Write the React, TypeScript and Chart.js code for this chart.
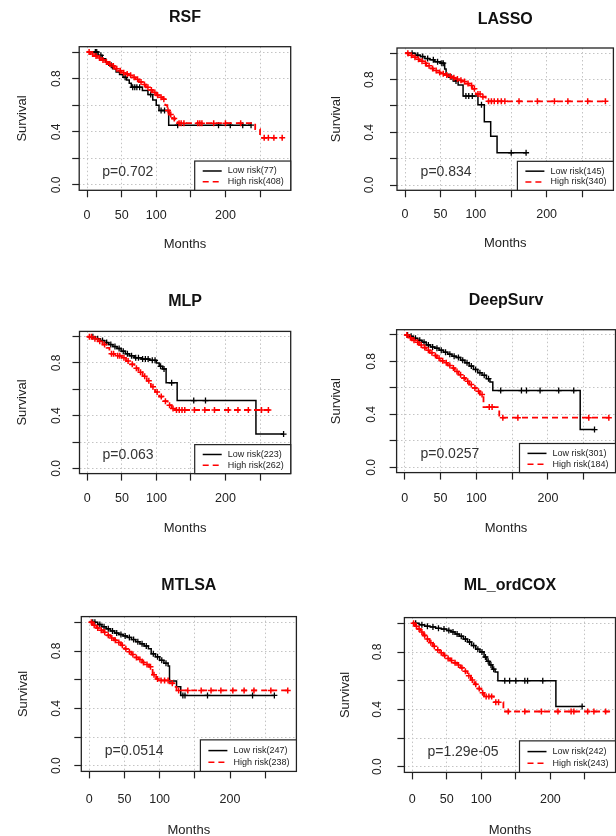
import React, { useEffect, useRef } from 'react';
import { Chart, registerables } from 'chart.js';

Chart.register(...registerables);

const FONT = "'Liberation Sans', Arial, Helvetica, sans-serif";
Chart.defaults.font.family = FONT;

// ---------- axes ----------
const X_MIN = -11.32;
const X_MAX = 294.3;
const Y_MIN = -0.04;
const Y_MAX = 1.04;
const xTickValues = [0, 50, 100, 150, 200, 250];
const xTickLabels = ['0', '50', '100', '', '200', ''];
const yTickValues = [0, 0.2, 0.4, 0.6, 0.8, 1.0];
const yTickLabels = ['0.0', '', '0.4', '', '0.8', ''];
const P_LABEL_X = 22; // months
const P_LABEL_Y = 0.1; // survival

// ---------- panel titles / text ----------
const panelTitles = ['RSF', 'LASSO', 'MLP', 'DeepSurv', 'MTLSA', 'ML_ordCOX'];
const lowCounts = [77, 145, 223, 301, 247, 242];
const highCounts = [408, 340, 262, 184, 238, 243];
const pValues = ['p=0.702', 'p=0.834', 'p=0.063', 'p=0.0257', 'p=0.0514', 'p=1.29e-05'];

// ---------- RSF ----------
const rsfLowTime = [0, 16, 22, 27, 32, 37, 42, 47, 52, 57, 61, 64, 80, 88, 95, 100, 104, 118, 237];
const rsfLowSurv = [1, 0.975, 0.95, 0.925, 0.9, 0.875, 0.85, 0.83, 0.81, 0.79, 0.765, 0.735, 0.71, 0.68, 0.64, 0.6, 0.56, 0.45, 0.45];
const rsfLowCensor = [12, 14, 20, 35, 55, 66, 69, 72, 76, 92, 107, 112, 131, 190, 207, 225, 237];
const rsfHighTime = [0, 5, 10, 15, 20, 25, 30, 35, 40, 45, 50, 55, 60, 65, 70, 75, 80, 85, 90, 95, 100, 105, 110, 113, 116, 119, 123, 127, 131, 243, 250, 283];
const rsfHighSurv = [1, 0.985, 0.97, 0.955, 0.94, 0.925, 0.91, 0.895, 0.875, 0.86, 0.845, 0.835, 0.825, 0.81, 0.795, 0.775, 0.755, 0.735, 0.715, 0.695, 0.675, 0.66, 0.645, 0.6, 0.56, 0.53, 0.5, 0.48, 0.465, 0.42, 0.355, 0.355];
const rsfHighCensor = [3, 8, 13, 18, 23, 28, 33, 38, 43, 48, 53, 58, 63, 68, 73, 78, 83, 88, 93, 98, 102, 107, 111, 117, 121, 126, 133, 136, 140, 160, 163, 166, 183, 200, 222, 256, 262, 270, 282];

// ---------- LASSO ----------
const lassoLowTime = [0, 15, 22, 28, 35, 42, 50, 56, 58, 62, 68, 75, 82, 103, 112, 121, 130, 171];
const lassoLowSurv = [1, 0.985, 0.975, 0.96, 0.95, 0.935, 0.925, 0.88, 0.84, 0.82, 0.79, 0.76, 0.675, 0.61, 0.48, 0.37, 0.245, 0.245];
const lassoLowCensor = [10, 18, 25, 32, 40, 46, 52, 54, 65, 72, 86, 90, 95, 108, 150, 171];
const lassoHighTime = [0, 5, 10, 15, 20, 25, 30, 35, 40, 45, 50, 55, 60, 65, 70, 75, 80, 85, 90, 95, 100, 107, 114, 283];
const lassoHighSurv = [1, 0.985, 0.97, 0.955, 0.94, 0.925, 0.905, 0.885, 0.87, 0.855, 0.845, 0.835, 0.825, 0.815, 0.805, 0.795, 0.785, 0.77, 0.755, 0.73, 0.69, 0.67, 0.635, 0.635];
const lassoHighCensor = [4, 9, 14, 19, 24, 29, 34, 39, 44, 49, 54, 59, 64, 69, 74, 79, 84, 89, 94, 98, 103, 106, 110, 118, 122, 126, 131, 136, 141, 161, 187, 211, 230, 258, 283];

// ---------- MLP ----------
const mlpLowTime = [0, 12, 19, 25, 31, 37, 43, 49, 55, 61, 68, 78, 90, 100, 104, 109, 114, 130, 244, 284];
const mlpLowSurv = [1, 0.985, 0.97, 0.955, 0.94, 0.925, 0.91, 0.89, 0.87, 0.855, 0.84, 0.83, 0.82, 0.8, 0.775, 0.755, 0.65, 0.515, 0.26, 0.26];
const mlpLowCensor = [8, 15, 22, 28, 34, 40, 46, 52, 58, 64, 70, 74, 80, 84, 88, 94, 98, 106, 111, 122, 154, 171, 284];
const mlpHighTime = [0, 8, 15, 22, 28, 32, 40, 50, 56, 62, 68, 74, 80, 86, 92, 98, 104, 110, 116, 122, 126, 264];
const mlpHighSurv = [1, 0.985, 0.965, 0.94, 0.915, 0.87, 0.855, 0.84, 0.815, 0.79, 0.76, 0.73, 0.7, 0.665, 0.62, 0.58, 0.545, 0.51, 0.48, 0.455, 0.443, 0.443];
const mlpHighCensor = [3, 6, 11, 18, 25, 35, 38, 44, 47, 53, 59, 65, 71, 77, 83, 89, 95, 101, 107, 113, 119, 124, 129, 133, 137, 141, 155, 170, 184, 204, 218, 233, 252, 262];

// ---------- DeepSurv ----------
const deepLowTime = [0, 6, 12, 18, 24, 30, 36, 42, 48, 54, 60, 66, 72, 78, 84, 90, 96, 102, 108, 114, 119, 123, 245, 265];
const deepLowSurv = [1, 0.99, 0.975, 0.96, 0.945, 0.925, 0.91, 0.9, 0.885, 0.87, 0.855, 0.84, 0.83, 0.81, 0.79, 0.765, 0.74, 0.715, 0.695, 0.67, 0.645, 0.58, 0.285, 0.285];
const deepLowCensor = [4, 9, 15, 21, 27, 33, 39, 45, 51, 57, 63, 69, 75, 81, 87, 93, 99, 105, 111, 117, 134, 163, 170, 189, 215, 236, 265];
const deepHighTime = [0, 5, 10, 15, 20, 25, 30, 35, 40, 45, 50, 55, 60, 65, 70, 75, 80, 85, 90, 95, 100, 105, 110, 132, 288];
const deepHighSurv = [1, 0.98, 0.96, 0.945, 0.925, 0.905, 0.885, 0.865, 0.845, 0.825, 0.805, 0.79, 0.77, 0.75, 0.725, 0.7, 0.675, 0.65, 0.625, 0.6, 0.575, 0.55, 0.455, 0.375, 0.375];
const deepHighCensor = [3, 8, 13, 18, 23, 28, 33, 38, 43, 48, 53, 58, 63, 68, 73, 78, 83, 88, 93, 98, 103, 108, 118, 122, 137, 158, 257, 285];

// ---------- MTLSA ----------
const mtlsaLowTime = [0, 12, 18, 24, 30, 36, 42, 48, 54, 60, 66, 72, 78, 84, 88, 94, 100, 106, 112, 114, 124, 130, 263];
const mtlsaLowSurv = [1, 0.985, 0.97, 0.955, 0.94, 0.925, 0.915, 0.905, 0.895, 0.88, 0.865, 0.85, 0.835, 0.815, 0.78, 0.76, 0.735, 0.715, 0.695, 0.59, 0.55, 0.49, 0.49];
const mtlsaLowCensor = [5, 8, 15, 21, 27, 33, 39, 45, 51, 57, 63, 69, 75, 81, 91, 97, 103, 109, 133, 136, 168, 232, 263];
const mtlsaHighTime = [0, 5, 10, 15, 20, 25, 30, 35, 40, 45, 50, 55, 60, 65, 70, 75, 80, 85, 90, 95, 100, 114, 121, 124, 282];
const mtlsaHighSurv = [1, 0.98, 0.96, 0.945, 0.93, 0.91, 0.89, 0.875, 0.86, 0.84, 0.815, 0.795, 0.775, 0.755, 0.74, 0.72, 0.705, 0.69, 0.635, 0.605, 0.595, 0.575, 0.55, 0.525, 0.525];
const mtlsaHighCensor = [3, 7, 12, 17, 22, 27, 32, 37, 42, 47, 52, 57, 62, 67, 72, 77, 82, 87, 92, 97, 102, 107, 112, 118, 127, 140, 159, 173, 187, 204, 220, 234, 258, 282];

// ---------- ML_ordCOX ----------
const ordLowTime = [0, 10, 18, 26, 34, 42, 50, 56, 62, 68, 74, 80, 86, 92, 98, 104, 108, 112, 116, 120, 124, 208, 246];
const ordLowSurv = [1, 0.99, 0.98, 0.975, 0.965, 0.96, 0.95, 0.94, 0.925, 0.91, 0.89, 0.87, 0.845, 0.82, 0.8, 0.765, 0.735, 0.71, 0.68, 0.66, 0.6, 0.42, 0.42];
const ordLowCensor = [5, 14, 22, 30, 38, 46, 53, 59, 65, 71, 77, 83, 89, 95, 101, 106, 110, 114, 118, 134, 141, 150, 163, 167, 189, 246];
const ordHighTime = [0, 4, 8, 12, 16, 20, 25, 30, 35, 40, 45, 50, 55, 60, 65, 70, 75, 80, 85, 90, 95, 100, 104, 118, 132, 292];
const ordHighSurv = [1, 0.98, 0.96, 0.94, 0.915, 0.89, 0.865, 0.84, 0.815, 0.795, 0.775, 0.755, 0.74, 0.725, 0.71, 0.69, 0.665, 0.635, 0.605, 0.575, 0.545, 0.515, 0.49, 0.45, 0.385, 0.385];
const ordHighCensor = [2, 6, 10, 14, 18, 22, 27, 32, 37, 42, 47, 52, 57, 62, 67, 72, 77, 82, 87, 92, 97, 102, 107, 111, 115, 121, 125, 139, 163, 187, 211, 230, 234, 254, 263, 280];

const seriesByPanel = [
  [rsfLowTime, rsfLowSurv, rsfLowCensor, rsfHighTime, rsfHighSurv, rsfHighCensor],
  [lassoLowTime, lassoLowSurv, lassoLowCensor, lassoHighTime, lassoHighSurv, lassoHighCensor],
  [mlpLowTime, mlpLowSurv, mlpLowCensor, mlpHighTime, mlpHighSurv, mlpHighCensor],
  [deepLowTime, deepLowSurv, deepLowCensor, deepHighTime, deepHighSurv, deepHighCensor],
  [mtlsaLowTime, mtlsaLowSurv, mtlsaLowCensor, mtlsaHighTime, mtlsaHighSurv, mtlsaHighCensor],
  [ordLowTime, ordLowSurv, ordLowCensor, ordHighTime, ordHighSurv, ordHighCensor],
];

// ---------- layout (page pixels) ----------
type Layout = {
  cx: number; cy: number; cw: number; ch: number;
  L: number; T: number; R: number; B: number;
  titleY: number; survX: number; yPad: number; xPad: number; monthsY: number;
};
const layouts: Layout[] = [
  { cx: 0, cy: 0, cw: 308, ch: 262, L: 79.2, T: 46.7, R: 290.7, B: 190.3, titleY: 18, survX: 22, yPad: 7.5, xPad: 10.5, monthsY: 244 },
  { cx: 308, cy: 0, cw: 312, ch: 262, L: 397.0, T: 48.0, R: 613.4, B: 190.3, titleY: 20, survX: 336, yPad: 12.3, xPad: 9.5, monthsY: 243.5 },
  { cx: 0, cy: 278, cw: 308, ch: 267, L: 79.5, T: 331.4, R: 290.7, B: 473.6, titleY: 302, survX: 22, yPad: 7.8, xPad: 10.2, monthsY: 528 },
  { cx: 308, cy: 278, cw: 312, ch: 267, L: 396.6, T: 329.7, R: 615.6, B: 472.6, titleY: 301, survX: 336, yPad: 9.9, xPad: 11.2, monthsY: 528 },
  { cx: 0, cy: 560, cw: 308, ch: 280, L: 81.3, T: 616.6, R: 296.4, B: 771.4, titleY: 586, survX: 23, yPad: 9.6, xPad: 13.4, monthsY: 830 },
  { cx: 308, cy: 560, cw: 312, ch: 280, L: 404.4, T: 617.6, R: 618.5, B: 772.4, titleY: 586, survX: 345, yPad: 11.7, xPad: 12.4, monthsY: 830 },
];

const toPoints = (t: number[], s: number[]) => t.map((v, i) => ({ x: v, y: s[i] }));
const survAt = (t: number[], s: number[], when: number) => {
  let v = s[0];
  for (let i = 0; i < t.length; i++) if (t[i] <= when) v = s[i];
  return v;
};
const censorPoints = (t: number[], s: number[], c: number[]) => c.map((w) => ({ x: w, y: survAt(t, s, w) }));

function buildConfig(idx: number): any {
  const lay = layouts[idx];
  const [lowT, lowS, lowC, highT, highS, highC] = seriesByPanel[idx];
  const lhTitle = 16 * 1.2;
  const lhAxis = 13 * 1.2;
  const titlePadTop = lay.titleY - lay.cy - lhTitle / 2;
  const titlePadBottom = lay.T - lay.cy - titlePadTop - lhTitle;
  const yWidth = lay.L - lay.cx;
  const xHeight = lay.cy + lay.ch - lay.B;
  const rightPad = lay.cx + lay.cw - lay.R;
  const monthsPad = Math.max(0, lay.cy + lay.ch - lay.monthsY - lhAxis / 2);
  const survPad = lay.survX - lay.cx - lhAxis / 2;

  const decor = {
    id: 'decor' + idx,
    afterDatasetsDraw(chart: any) {
      const { ctx, chartArea: a, scales } = chart;
      const xs = scales.x;
      const ys = scales.y;
      ctx.save();
      ctx.setLineDash([]);
      ctx.strokeStyle = '#222';
      ctx.lineWidth = 1.3;
      ctx.strokeRect(a.left, a.top, a.right - a.left, a.bottom - a.top);

      // p-value
      ctx.fillStyle = '#333';
      ctx.font = `14px ${FONT}`;
      ctx.textAlign = 'left';
      ctx.textBaseline = 'middle';
      ctx.fillText(pValues[idx], xs.getPixelForValue(P_LABEL_X), ys.getPixelForValue(P_LABEL_Y));

      // legend (bottom right)
      const lw = 96;
      const lh = 0.22 * (ys.getPixelForValue(0) - ys.getPixelForValue(1));
      const lx = Math.min(a.right, 616) - lw;
      const ly = a.bottom - lh;
      ctx.fillStyle = '#ffffff';
      ctx.fillRect(lx, ly, a.right - lx, lh);
      ctx.strokeStyle = '#222';
      ctx.lineWidth = 1.2;
      ctx.strokeRect(lx, ly, a.right - lx, lh);
      const r1 = ly + lh * 0.34;
      const r2 = ly + lh * 0.71;
      ctx.lineWidth = 1.5;
      ctx.strokeStyle = '#000';
      ctx.beginPath();
      ctx.moveTo(lx + 8, r1);
      ctx.lineTo(lx + 27, r1);
      ctx.stroke();
      ctx.strokeStyle = '#ff0000';
      ctx.setLineDash([6, 4]);
      ctx.beginPath();
      ctx.moveTo(lx + 8, r2);
      ctx.lineTo(lx + 27, r2);
      ctx.stroke();
      ctx.setLineDash([]);
      ctx.fillStyle = '#222';
      ctx.font = `9px ${FONT}`;
      ctx.fillText(`Low risk(${lowCounts[idx]})`, lx + 33, r1);
      ctx.fillText(`High risk(${highCounts[idx]})`, lx + 33, r2);
      ctx.restore();
    },
  };

  const gridCommon = {
    color: '#c4c4c4',
    lineWidth: 1,
    drawTicks: true,
    tickLength: 7,
    tickColor: '#222',
    tickWidth: 1.2,
    tickBorderDash: [],
  };

  return {
    type: 'line',
    data: {
      datasets: [
        {
          label: 'High risk censored',
          data: censorPoints(highT, highS, highC),
          showLine: false,
          pointStyle: 'cross',
          pointRadius: 3,
          pointHoverRadius: 3,
          borderColor: '#ff0000',
          backgroundColor: '#ff0000',
          borderWidth: 1.5,
        },
        {
          label: `High risk(${highCounts[idx]})`,
          data: toPoints(highT, highS),
          stepped: 'before',
          borderColor: '#ff0000',
          borderWidth: 1.8,
          borderDash: [6, 4],
          pointRadius: 0,
          fill: false,
        },
        {
          label: 'Low risk censored',
          data: censorPoints(lowT, lowS, lowC),
          showLine: false,
          pointStyle: 'cross',
          pointRadius: 3,
          pointHoverRadius: 3,
          borderColor: '#000000',
          backgroundColor: '#000000',
          borderWidth: 1.3,
        },
        {
          label: `Low risk(${lowCounts[idx]})`,
          data: toPoints(lowT, lowS),
          stepped: 'before',
          borderColor: '#000000',
          borderWidth: 1.5,
          pointRadius: 0,
          fill: false,
        },
      ],
    },
    options: {
      animation: false,
      responsive: false,
      devicePixelRatio: 1,
      events: [],
      layout: { padding: { left: 0, top: 0, right: rightPad, bottom: 0 } },
      plugins: {
        legend: { display: false },
        tooltip: { enabled: false },
        title: {
          display: true,
          text: panelTitles[idx],
          fullSize: false,
          color: '#111',
          font: { family: FONT, size: 16, weight: 'bold' },
          padding: { top: titlePadTop, bottom: titlePadBottom },
        },
      },
      scales: {
        x: {
          type: 'linear',
          min: X_MIN,
          max: X_MAX,
          afterBuildTicks: (s: any) => {
            s.ticks = xTickValues.map((v) => ({ value: v }));
          },
          afterFit: (s: any) => {
            s.height = xHeight;
          },
          ticks: {
            autoSkip: false,
            maxRotation: 0,
            minRotation: 0,
            padding: lay.xPad,
            color: '#222',
            font: { family: FONT, size: 12.5 },
            callback: (v: number) => xTickLabels[xTickValues.indexOf(v)] ?? '',
          },
          grid: gridCommon,
          border: { display: false, dash: [1.5, 2.5] },
          title: {
            display: true,
            text: 'Months',
            color: '#222',
            font: { family: FONT, size: 13 },
            padding: { top: 0, bottom: monthsPad },
          },
        },
        y: {
          type: 'linear',
          min: Y_MIN,
          max: Y_MAX,
          afterBuildTicks: (s: any) => {
            s.ticks = yTickValues.map((v) => ({ value: v }));
          },
          afterFit: (s: any) => {
            s.width = yWidth;
          },
          ticks: {
            autoSkip: false,
            minRotation: 90,
            maxRotation: 90,
            crossAlign: 'center',
            padding: lay.yPad,
            color: '#222',
            font: { family: FONT, size: 12 },
            callback: (v: number) => yTickLabels[yTickValues.indexOf(v)] ?? '',
          },
          grid: gridCommon,
          border: { display: false, dash: [1.5, 2.5] },
          title: {
            display: true,
            text: 'Survival',
            color: '#222',
            font: { family: FONT, size: 13 },
            padding: { top: survPad, bottom: 0 },
          },
        },
      },
    },
    plugins: [decor],
  };
}

function Panel({ idx }: { idx: number }) {
  const ref = useRef<HTMLCanvasElement | null>(null);
  const lay = layouts[idx];
  useEffect(() => {
    if (!ref.current) return;
    const chart = new Chart(ref.current, buildConfig(idx));
    return () => chart.destroy();
  }, [idx]);
  return (
    <canvas
      ref={ref}
      width={lay.cw}
      height={lay.ch}
      style={{ position: 'absolute', left: lay.cx, top: lay.cy, width: lay.cw, height: lay.ch }}
    />
  );
}

export default function App() {
  return (
    <div
      style={{
        position: 'absolute',
        left: 0,
        top: 0,
        width: 616,
        height: 836,
        overflow: 'hidden',
        background: '#ffffff',
      }}
    >
      {panelTitles.map((_, i) => (
        <Panel key={i} idx={i} />
      ))}
    </div>
  );
}
